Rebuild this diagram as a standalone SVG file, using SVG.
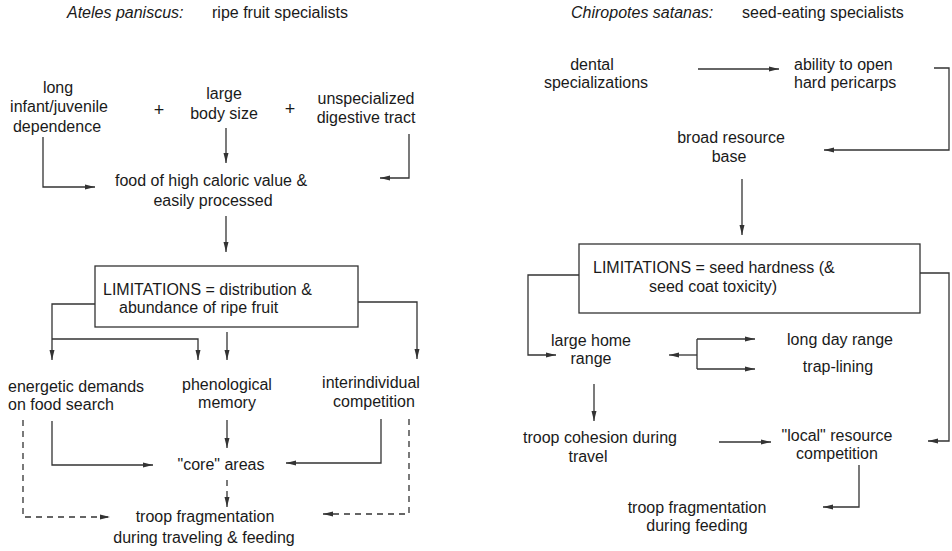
<svg xmlns="http://www.w3.org/2000/svg" width="952" height="551" viewBox="0 0 952 551">
<style>
text{font-family:"Liberation Sans",Arial,sans-serif;font-size:16px;fill:#1a1a1a}
.c{text-anchor:middle}
.i{font-style:italic}
.p{font-size:18px}
.s{font-size:15px}
.ln{fill:none;stroke:#333;stroke-width:1.3}
.d{stroke-dasharray:6 5}
.box{fill:none;stroke:#333;stroke-width:1.3}
</style>
<defs>
<marker id="ah" viewBox="0 0 10 6" refX="10" refY="3" markerWidth="10" markerHeight="6" markerUnits="userSpaceOnUse" orient="auto">
<path d="M0,0.5 L10,3 L0,5.5 Z" fill="#333"/>
</marker>
</defs>
<rect width="952" height="551" fill="#fff"/>

<g id="title-left"><text x="67" y="18" class="i">Ateles paniscus:</text><text x="212" y="18">ripe fruit specialists</text></g>
<g id="title-right"><text x="571" y="18" class="i">Chiropotes satanas:</text><text x="742" y="18">seed-eating specialists</text></g>

<g id="n-long"><text class="c" x="58" y="93">long</text><text class="c" x="59" y="112">infant/juvenile</text><text class="c" x="57" y="132">dependence</text></g>
<g id="plus1"><text class="c p" x="159" y="116">+</text></g>
<g id="n-large"><text class="c" x="224" y="99">large</text><text class="c" x="224" y="119">body size</text></g>
<g id="plus2"><text class="c p" x="290" y="115">+</text></g>
<g id="n-unspec"><text class="c" x="366" y="104">unspecialized</text><text class="c" x="366" y="123">digestive tract</text></g>
<g id="n-food"><text class="c" x="211" y="186">food of high caloric value  &amp;</text><text class="c" x="213" y="206">easily processed</text></g>
<g id="n-lim-left"><rect class="box" x="95" y="266" width="263" height="61"/><text x="103" y="295">LIMITATIONS = distribution &amp;</text><text x="119" y="313">abundance of ripe fruit</text></g>
<g id="n-energetic"><text x="8" y="392">energetic demands</text><text x="8" y="410">on food search</text></g>
<g id="n-pheno"><text class="c" x="227" y="390">phenological</text><text class="c" x="227" y="408">memory</text></g>
<g id="n-inter"><text class="c" x="371" y="388">interindividual</text><text class="c" x="374" y="407">competition</text></g>
<g id="n-core"><text class="c" x="221" y="470">"core" areas</text></g>
<g id="n-frag-left"><text class="c" x="205" y="522">troop fragmentation</text><text class="c" x="204" y="543">during traveling &amp; feeding</text></g>

<g id="n-dental"><text class="c" x="592" y="70">dental</text><text class="c" x="596" y="88">specializations</text></g>
<g id="n-ability"><text x="794" y="70">ability to open</text><text x="794" y="88">hard pericarps</text></g>
<g id="n-broad"><text class="c" x="731" y="143">broad resource</text><text class="c" x="729" y="162">base</text></g>
<g id="n-lim-right"><rect class="box" x="579" y="244" width="341" height="69"/><text x="593" y="273">LIMITATIONS = seed hardness (&amp;</text><text x="649" y="292">seed coat toxicity)</text></g>
<g id="n-home"><text class="c" x="591" y="346">large home</text><text class="c" x="591" y="364">range</text></g>
<g id="n-dayrange"><text class="c" x="840" y="345">long day range</text></g>
<g id="n-trap"><text class="c" x="838" y="372">trap-lining</text></g>
<g id="n-cohesion"><text class="c" x="600" y="443">troop cohesion during</text><text class="c" x="588" y="462">travel</text></g>
<g id="n-local"><text class="c" x="837" y="441">"local" resource</text><text class="c" x="837" y="459">competition</text></g>
<g id="n-frag-right"><text class="c" x="697" y="513">troop fragmentation</text><text class="c" x="697" y="531">during feeding</text></g>

<g id="connectors">
<path class="ln" marker-end="url(#ah)" d="M43,137 V187 H95"/>
<path class="ln" marker-end="url(#ah)" d="M226,128 V163"/>
<path class="ln" marker-end="url(#ah)" d="M409,134 V178 H380"/>
<path class="ln" marker-end="url(#ah)" d="M226,216 V252"/>
<path class="ln" marker-end="url(#ah)" d="M95,304 H52 V360"/>
<path class="ln" marker-end="url(#ah)" d="M52,339 H198 V360"/>
<path class="ln" marker-end="url(#ah)" d="M227,332 V360"/>
<path class="ln" marker-end="url(#ah)" d="M358,302 H417 V359"/>
<path class="ln" marker-end="url(#ah)" d="M52,421 V465 H153"/>
<path class="ln" marker-end="url(#ah)" d="M227,420 V448"/>
<path class="ln" marker-end="url(#ah)" d="M381,419 V463 H286"/>
<path class="ln d" marker-end="url(#ah)" d="M227,480 V507"/>
<path class="ln d" marker-end="url(#ah)" d="M23,420 V517 H110"/>
<path class="ln d" marker-end="url(#ah)" d="M409,419 V514 H323"/>

<path class="ln" marker-end="url(#ah)" d="M698,69 H779"/>
<path class="ln" marker-end="url(#ah)" d="M934,68 H949 V150 H824"/>
<path class="ln" marker-end="url(#ah)" d="M742,179 V235"/>
<path class="ln" marker-end="url(#ah)" d="M579,275 H528 V355 H556"/>
<path class="ln" marker-end="url(#ah)" d="M920,273 H949 V441 H928"/>
<path class="ln" marker-end="url(#ah)" d="M697,355 H669"/>
<path class="ln" marker-end="url(#ah)" d="M697,339 V369 M697,339 H755"/>
<path class="ln" marker-end="url(#ah)" d="M697,369 H755"/>
<path class="ln" marker-end="url(#ah)" d="M594,384 V421"/>
<path class="ln" marker-end="url(#ah)" d="M719,442 H771"/>
<path class="ln" marker-end="url(#ah)" d="M859,465 V507 H823"/>
</g>
</svg>
